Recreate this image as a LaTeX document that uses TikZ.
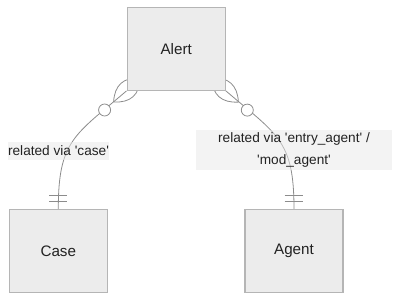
\documentclass[tikz,border=0pt]{standalone}
\usepackage{fontspec}
\setmainfont{Liberation Sans}
\usetikzlibrary{backgrounds}
\definecolor{boxfill}{HTML}{ECECEC}
\definecolor{boxline}{HTML}{B5B5B5}
\definecolor{edgecol}{HTML}{8C8C8C}
\definecolor{lblfill}{HTML}{E8E8E8}
\definecolor{txt}{HTML}{222222}
\newcommand{\sq}{\textquotesingle}
\tikzset{
  entity/.style={draw=boxline, fill=boxfill, line width=1.3pt, minimum width=98pt, minimum height=83pt, inner sep=0pt, text=txt, font=\fontsize{15.2}{18}\selectfont},
  edge/.style={draw=edgecol, line width=0.8pt},
  lbl/.style={fill=lblfill, fill opacity=0.5, text opacity=1, text=txt, inner sep=0pt, align=center, font=\fontsize{13.65}{21.5}\selectfont},
}
\begin{document}
\begin{tikzpicture}[x=1pt,y=-1pt]
\useasboundingbox (0,0) rectangle (408,306);
\node[entity] (alert) at (176.2,48.7) {Alert};
\node[entity] (case) at (58.3,251) {Case};
\node[entity] (agent) at (294,251) {Agent};
\begin{pgfonlayer}{background}
  % edges
  \draw[edge] (alert.south west) .. controls (75,135) and (58.3,140) .. (case.north);
  \draw[edge] (alert.south east) .. controls (277.4,135) and (294,140) .. (agent.north);
  % crow's feet
  \draw[edge] (113.6,102.0) .. controls (114.53,85.07) and (123.47,77.07) .. (140.4,78.0)
     .. controls (139.47,94.93) and (130.53,102.93) .. (113.6,102.0);
  \draw[edge] (238.4,102.1) .. controls (237.53,85.1) and (228.6,77.03) .. (211.6,77.9)
     .. controls (212.47,94.9) and (221.4,102.97) .. (238.4,102.1);
  \draw[edge, fill=white] (104.6,110.0) circle[radius=6];
  \draw[edge, fill=white] (247.3,110.1) circle[radius=6];
  % only-one bars
  \draw[edge] (49.3,195.3) -- (67.3,195.3) (49.3,201.3) -- (67.3,201.3);
  \draw[edge] (284.7,195.3) -- (302.7,195.3) (284.7,201.3) -- (302.7,201.3);
\end{pgfonlayer}
\node[lbl, minimum width=101pt, minimum height=18pt] (l1) at (58.5,151) {related via \sq case\sq};
\node[lbl, minimum width=196pt, minimum height=40pt] (l2) at (294,150) {related via \sq entry\_agent\sq\ /\\\sq mod\_agent\sq};
\end{tikzpicture}
\end{document}
